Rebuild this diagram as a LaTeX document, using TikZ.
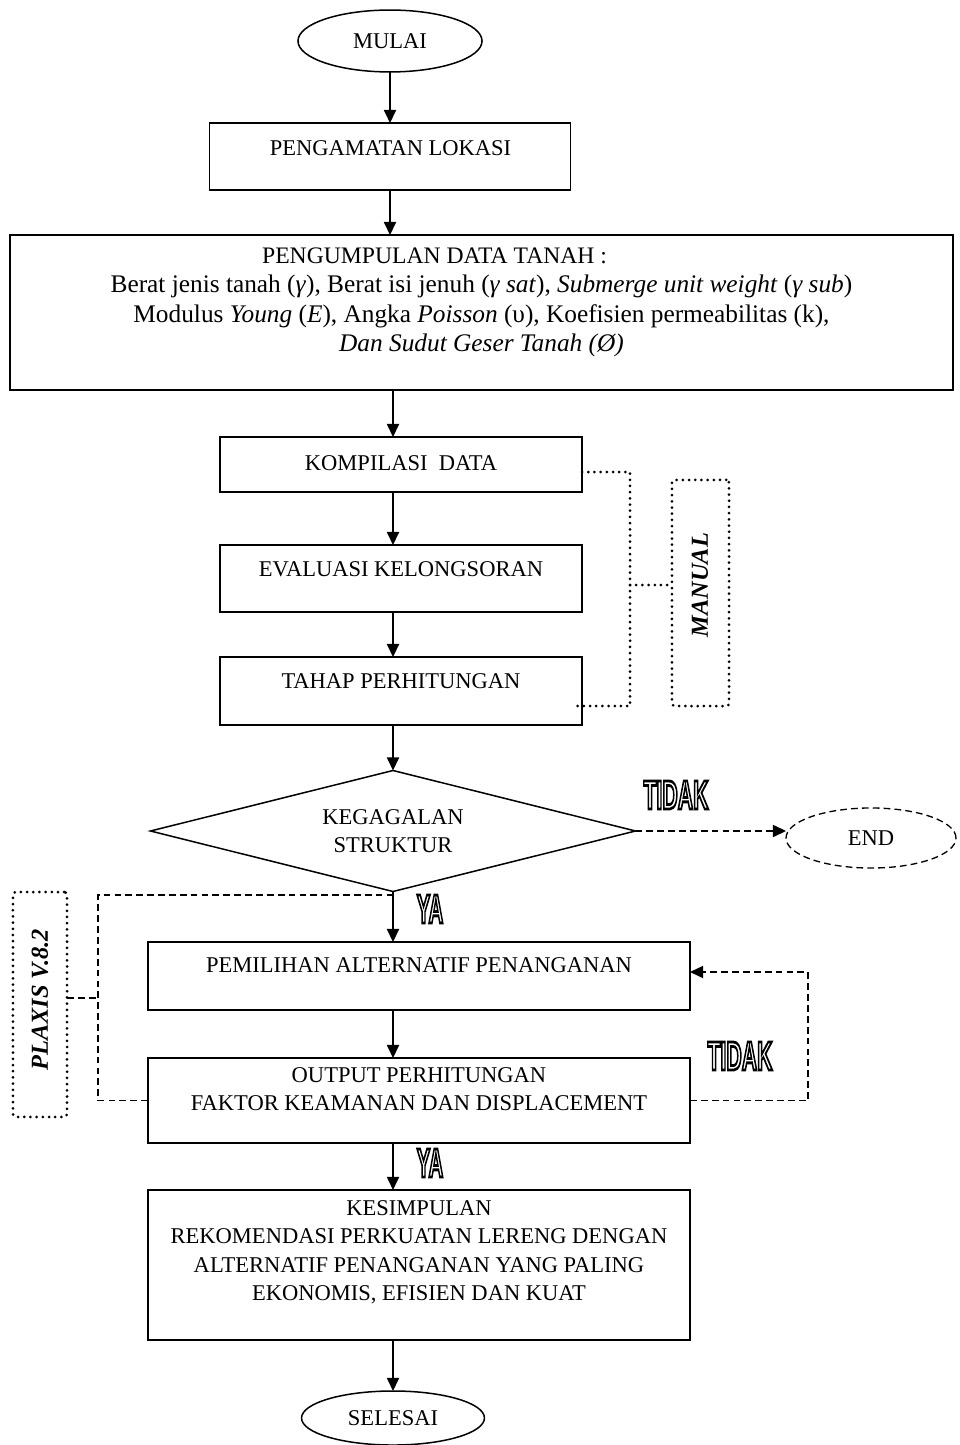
\documentclass[tikz,border=0pt]{standalone}
\usepackage{fontspec}
\usepackage{graphicx}
\setmainfont{Liberation Serif}
\newfontfamily\lblfont{Liberation Sans}
\usetikzlibrary{arrows.meta,shapes.geometric}
\newcommand\outl[1]{\special{pdf:literal direct 1 Tr 1.5 w}#1\special{pdf:literal direct 0 Tr}}
\begin{document}
\begin{tikzpicture}[x=0.533pt,y=-0.533pt,
  every node/.style={inner sep=0pt, outer sep=0pt},
  box/.style={draw, line width=0.9pt, rectangle},
  txt/.style={anchor=north, align=center, font=\fontsize{12}{15}\selectfont, execute at begin node=\strut},
  oval/.style={draw, line width=0.8pt, ellipse, font=\fontsize{12}{15}\selectfont},
  flow/.style={line width=0.8pt, -{Triangle[length=7pt,width=6.5pt]}},
  dsh/.style={line width=0.7pt, dash pattern=on 3.6pt off 2.2pt},
  dotl/.style={line width=1.6pt, line cap=round, dash pattern=on 0pt off 3.3pt},
  yn/.style={font=\lblfont\bfseries\fontsize{21.8}{22}\selectfont},
  vlab/.style={rotate=90, font=\fontsize{13}{15}\selectfont\bfseries\itshape}]
\useasboundingbox (0,0) rectangle (959,1445);

% nodes
\node[oval, minimum width=98.1pt, minimum height=33pt] (mulai) at (390,41) {MULAI};

\node[box, minimum width=192.4pt, minimum height=35.7pt] (b1) at (390,156.5) {};
\node[txt] (t1) at (390.5,135.8) {PENGAMATAN LOKASI};

\node[box, minimum width=502.6pt, minimum height=82.6pt] (b2) at (481.5,312.5) {};
\node[txt, font=\fontsize{13.5}{15.6}\selectfont] (t2) at (481.5,248) {{\fontsize{12.6}{15.6}\selectfont PENGUMPULAN DATA TANAH :\hspace*{50pt}}\\
Berat jenis tanah (\textit{γ}), Berat isi jenuh (\textit{γ sat}), \textit{Submerge unit weight} (\textit{γ sub})\\
Modulus \textit{Young} (\textit{E}), Angka \textit{Poisson} (υ), Koefisien permeabilitas (k),\\
\textit{Dan Sudut Geser Tanah (Ø)}};

\node[box, minimum width=193pt, minimum height=29.3pt] (b3) at (401,464.5) {};
\node[txt] (t3) at (401,450.8) {KOMPILASI\ \ DATA};

\node[box, minimum width=193pt, minimum height=35.7pt] (b4) at (401,578.5) {};
\node[txt] (t4) at (401,556.8) {EVALUASI KELONGSORAN};

\node[box, minimum width=193pt, minimum height=36.2pt] (b5) at (401,691) {};
\node[txt] (t5) at (401,668.8) {TAHAP PERHITUNGAN};

\node[draw, diamond, aspect=4, minimum width=258.5pt, minimum height=64.5pt, line width=0.8pt,
      align=center, font=\fontsize{12}{15}\selectfont] (dia) at (393,831) {KEGAGALAN\\STRUKTUR};

\node[yn] (tidak1) at (676,795) {\scalebox{0.52}[1]{\outl{TIDAK}}};
\node[oval, dsh, minimum width=90.6pt, minimum height=32pt] (endn) at (871,838) {END};

\node[yn] (ya1) at (430,909) {\scalebox{0.5}[1]{\outl{YA}}};

\node[box, minimum width=288.9pt, minimum height=36.2pt] (b6) at (419,976) {};
\node[txt] (t6) at (419,952.8) {PEMILIHAN ALTERNATIF PENANGANAN};

\node[box, minimum width=288.9pt, minimum height=45.3pt] (b7) at (419,1100.5) {};
\node[txt] (t7) at (419,1067.8) {OUTPUT PERHITUNGAN\\FAKTOR KEAMANAN DAN DISPLACEMENT};

\node[yn] (tidak2) at (740,1056) {\scalebox{0.52}[1]{\outl{TIDAK}}};
\node[yn] (ya2) at (430,1163) {\scalebox{0.5}[1]{\outl{YA}}};

\node[box, minimum width=288.9pt, minimum height=80pt] (b8) at (419,1265) {};
\node[txt] (t8) at (419,1200.8) {KESIMPULAN\\REKOMENDASI PERKUATAN LERENG DENGAN\\ALTERNATIF PENANGANAN YANG PALING\\EKONOMIS, EFISIEN DAN KUAT};

\node[oval, minimum width=97.5pt, minimum height=28.8pt] (selesai) at (393,1418) {SELESAI};

% side boxes
\node[dotl, draw, rounded corners=1.5pt, minimum width=30.4pt, minimum height=120.5pt] (manbox) at (700.5,593) {};
\node[vlab] (mantxt) at (700,585) {MANUAL};
\node[dotl, draw, rounded corners=1.5pt, minimum width=28.8pt, minimum height=119.9pt] (plxbox) at (40,1004.5) {};
\node[vlab] (plxtxt) at (40,1000) {PLAXIS V.8.2};

% main flow arrows
\draw[flow] (mulai.south) -- (b1.north -| mulai.south);
\draw[flow] (b1.south) -- (b2.north -| b1.south);
\draw[flow] (b2.south -| dia.north) -- (b3.north -| dia.north);
\draw[flow] (b3.south -| dia.north) -- (b4.north -| dia.north);
\draw[flow] (b4.south -| dia.north) -- (b5.north -| dia.north);
\draw[flow] (b5.south -| dia.north) -- (dia.north);
\draw[flow] (dia.south) -- (b6.north -| dia.south);
\draw[flow] (b6.south -| dia.south) -- (b7.north -| dia.south);
\draw[flow] (b7.south -| dia.south) -- (b8.north -| dia.south);
\draw[flow] (b8.south -| selesai.north) -- (selesai.north);

% TIDAK -> END
\draw[dsh, -{Triangle[length=7pt,width=6.5pt]}] (dia.east) -- (endn.west |- dia.east);

% MANUAL dotted bracket
\coordinate (m1) at (630,472);
\coordinate (m2) at (630,585);
\coordinate (m3) at (630,706);
\draw[dotl] (b3.east |- m1) -- (m1) -- (m3) -- ([xshift=-3.7pt]b5.east |- m3);
\draw[dotl] (m2) -- (manbox.west |- m2);

% PLAXIS dashed bracket
\coordinate (p1) at (98,998);
\coordinate (p2) at (98,895);
\draw[dsh] (plxbox.east |- p1) -- (p1);
\draw[dsh] (b7.west) -- (b7.west -| p1) -- (p2) -- (dia.south |- p2);

% TIDAK loop back
\coordinate (q) at (808,972);
\draw[dsh, -{Triangle[length=7pt,width=6.5pt]}] (b7.east) -- (b7.east -| q) -- (q) -- (b6.east |- q);
\end{tikzpicture}
\end{document}
